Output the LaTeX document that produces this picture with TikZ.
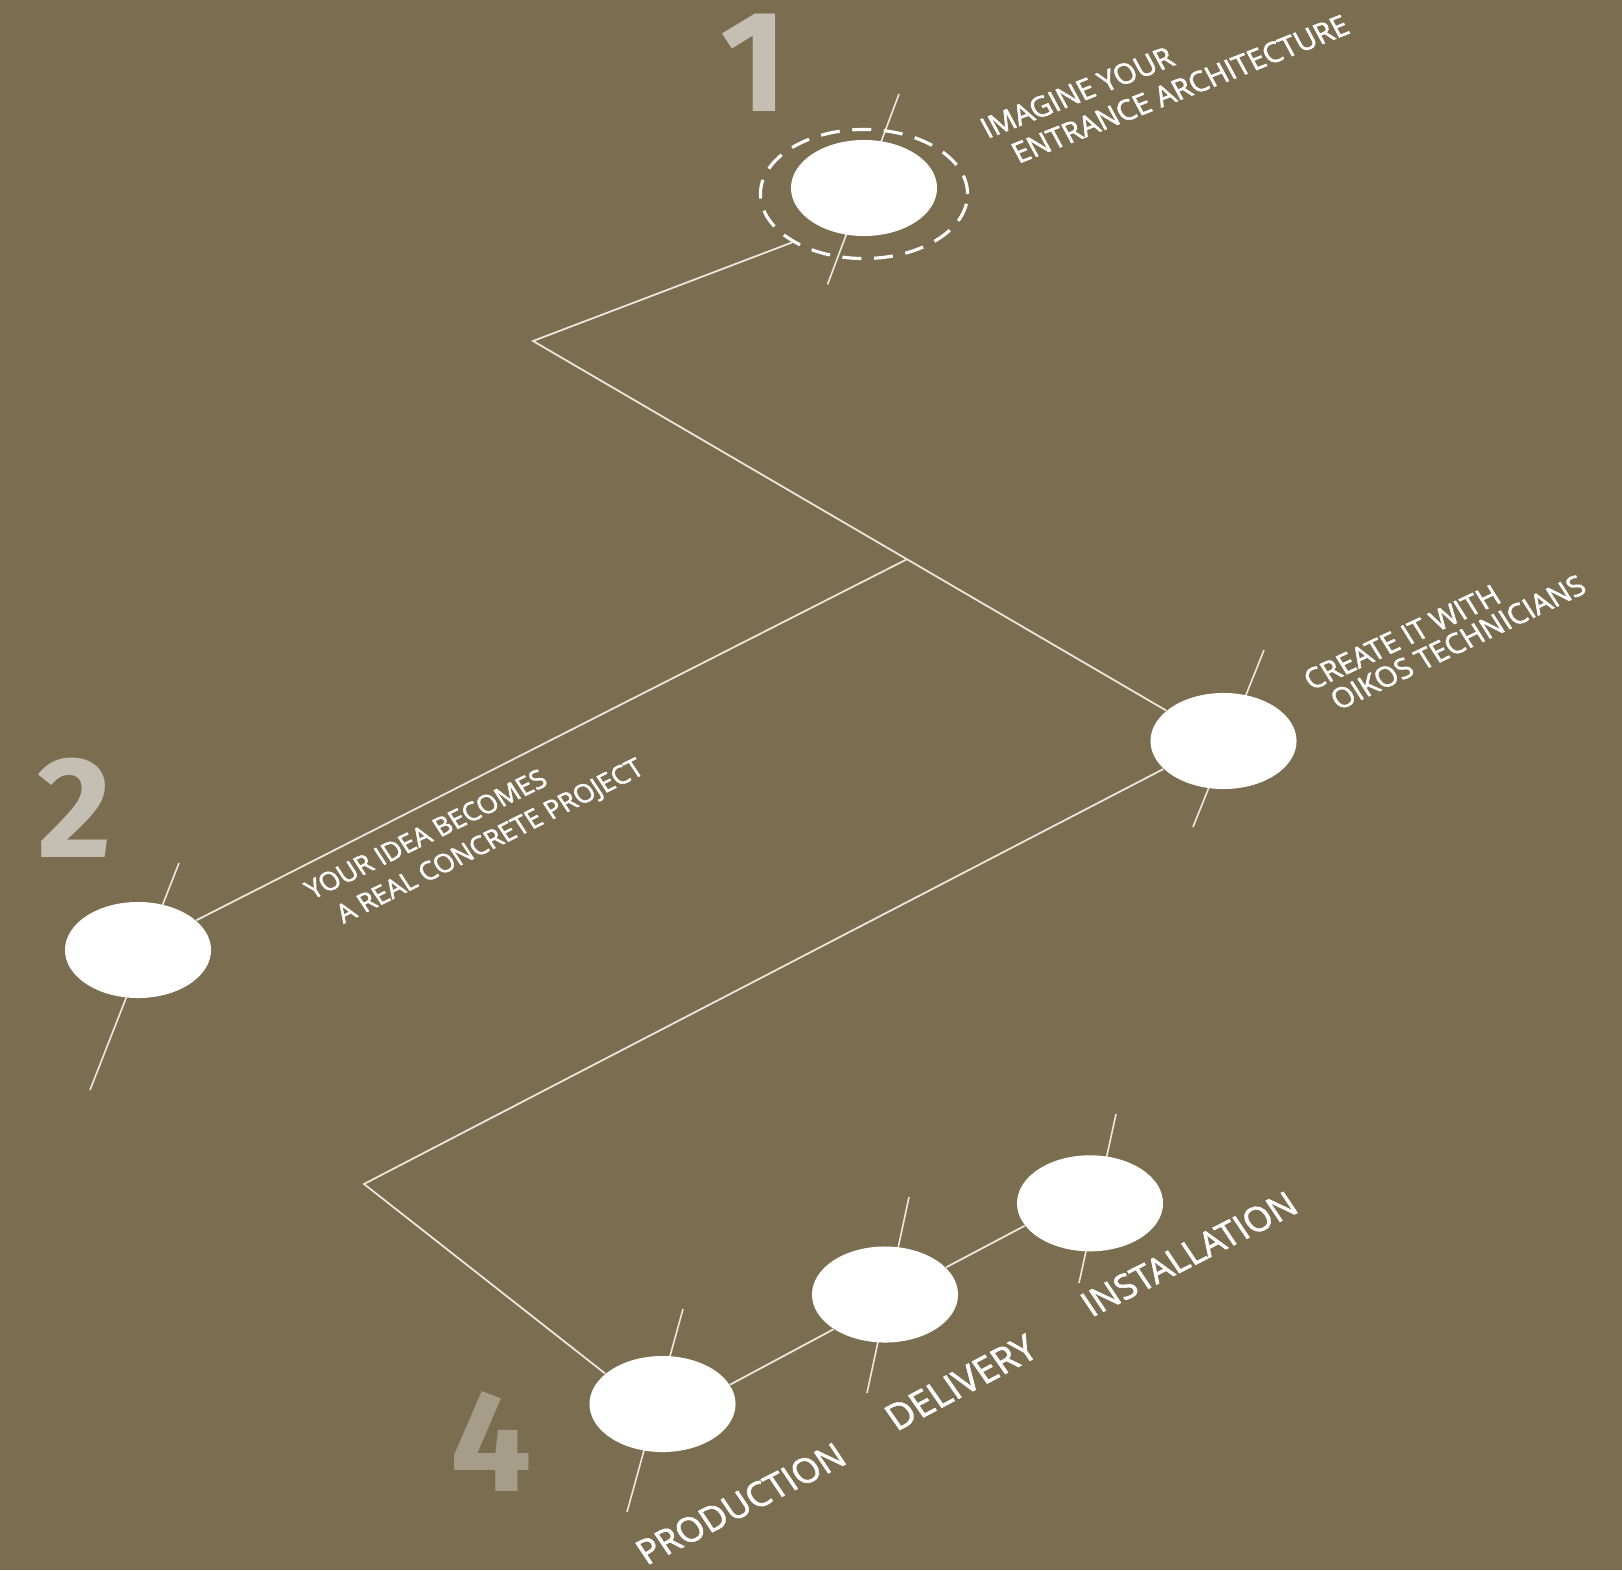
\documentclass[tikz,border=0pt]{standalone}
\usepackage{fontspec}
\setmainfont{Open Sans}
\newfontfamily\lblfont{Open Sans}[FakeBold=1.8]
\newfontfamily\numfont{Fira Sans}
\usetikzlibrary{shapes.geometric}
\definecolor{bg}{HTML}{7B6D4F}
\definecolor{numA}{HTML}{C5BFB3}
\definecolor{numB}{HTML}{A69D88}
\definecolor{ln}{HTML}{ECE8DF}
\begin{document}
\begin{tikzpicture}[x=0.01cm,y=-0.01cm,
  dot/.style={ellipse, fill=white, draw=none, inner sep=0pt, minimum width=1.46cm, minimum height=0.96cm},
  ring/.style={ellipse, draw=white, line width=0.9pt, dash pattern=on 5.4pt off 3.6pt, inner sep=0pt, minimum width=2.07cm, minimum height=1.29cm},
  conn/.style={draw=ln, line width=0.5pt},
  tickline/.style={draw=ln, line width=0.45pt},
  bignum/.style={inner sep=0pt, font=\numfont\bfseries\fontsize{41}{41}\selectfont},
  lbl/.style={inner sep=0pt, anchor=base west, text=white, rotate=#1, xslant=-0.12},
  sz8/.style={font=\lblfont\fontsize{8.2}{9}\selectfont},
  sz7/.style={font=\lblfont\fontsize{7.5}{9}\selectfont},
  sz10/.style={font=\lblfont\fontsize{10}{11}\selectfont},
  sz10b/.style={font=\lblfont\fontsize{10.5}{11}\selectfont},
]
\useasboundingbox (0,0) rectangle (1622,1570);
\fill[bg] (0,0) rectangle (1622,1570);

% tick lines through the dots
\coordinate (t1a) at (899,94);   \coordinate (t1b) at (827.5,284.5);
\coordinate (t2a) at (179,863);  \coordinate (t2b) at (90,1090);
\coordinate (t3a) at (1264,650); \coordinate (t3b) at (1193,827);
\coordinate (t4a) at (683,1309); \coordinate (t4b) at (627,1512);
\coordinate (t5a) at (909,1197); \coordinate (t5b) at (867,1393);
\coordinate (t6a) at (1116,1114);\coordinate (t6b) at (1079,1283);
\draw[tickline] (t1a) -- (t1b);
\draw[tickline] (t2a) -- (t2b);
\draw[tickline] (t3a) -- (t3b);
\draw[tickline] (t4a) -- (t4b);
\draw[tickline] (t5a) -- (t5b);
\draw[tickline] (t6a) -- (t6b);

% dots
\node[dot] (e1) at (864,188) {};
\node[ring] (r1) at (864,194) {};
\node[dot] (e2) at (138,950) {};
\node[dot] (e3) at (1223.5,741) {};
\node[dot] (e4a) at (662.5,1404) {};
\node[dot] (e4b) at (885,1294.5) {};
\node[dot] (e4c) at (1090,1203.3) {};

% connectors
\coordinate (c1) at (533,341);
\coordinate (J) at (907,559.2);
\coordinate (c2) at (364,1184);
\draw[conn] (r1.214) -- (c1) -- (e3.152);
\draw[conn] (e2.27) -- (J);
\draw[conn] (e3.205) -- (c2) -- (e4a.152);
\draw[conn] (e4a.16) -- (e4b.214);
\draw[conn] (e4b.24) -- (e4c.199);

% labels
\node[lbl=21.5, sz8] (l1a) at (987,139) {IMAGINE YOUR};
\node[lbl=21.5, sz8] (l1b) at (1018,164) {ENTRANCE ARCHITECTURE};
\node[lbl=26, sz7] (l2a) at (312,900) {YOUR IDEA BECOMES};
\node[lbl=26.5, sz7] (l2b) at (343,924) {A REAL CONCRETE PROJECT};
\node[lbl=25, sz8] (l3a) at (1311,691) {CREATE IT WITH};
\node[lbl=25.5, sz8] (l3b) at (1338,711) {OIKOS TECHNICIANS};
\node[lbl=27, sz10] (w1) at (646,1566) {PRODUCTION};
\node[lbl=28, sz10b] (w2) at (896,1432) {DELIVERY};
\node[lbl=27, sz10] (w3) at (1091,1318) {INSTALLATION};

% big numerals
\node[bignum, text=numA] (n1) at (754,63) {1};
\node[bignum, text=numA] (n2) at (75,808) {2};
\node[bignum, text=numB] (n4) at (491,1442) {4};
\end{tikzpicture}
\end{document}
